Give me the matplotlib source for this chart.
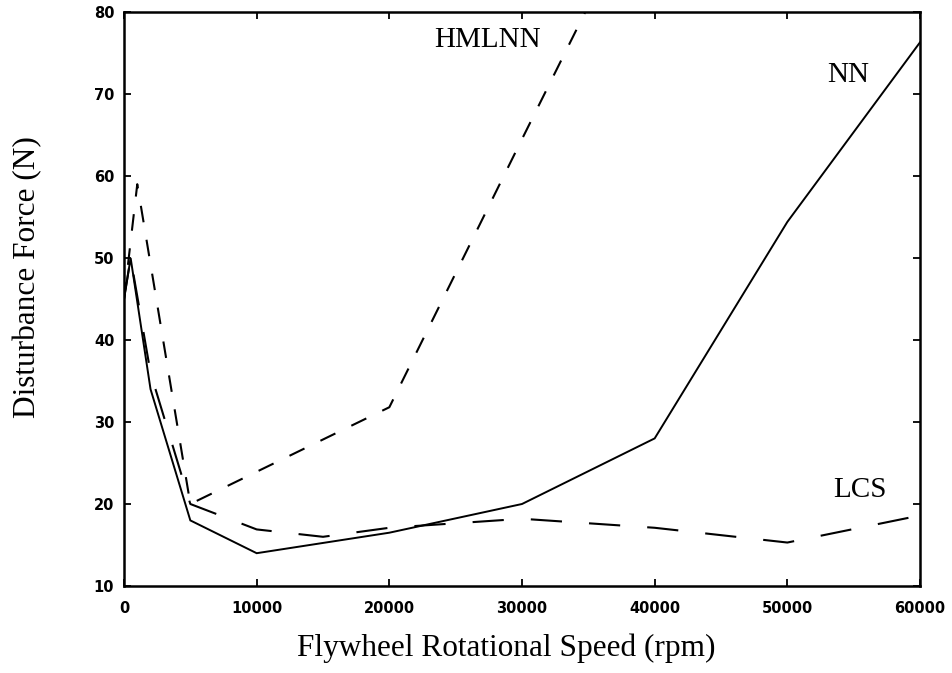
import matplotlib
matplotlib.use("Agg")
import matplotlib.pyplot as plt

# Data
speed_nn = [0, 500, 2000, 5000, 10000, 20000, 30000, 40000, 50000, 60000]
force_nn = [45, 50, 34, 18, 14, 16.5, 20, 28, 54.4, 76.3]

speed_hmlnn = [0, 1000, 5000, 20000, 30000, 40000]
force_hmlnn = [45, 59, 20, 31.8, 64.5, 97]

speed_lcs = [0, 500, 2000, 5000, 10000, 15000, 20000, 30000, 40000, 50000, 60000]
force_lcs = [45, 50, 36, 20, 16.9, 16.0, 17.1, 18.2, 17.1, 15.3, 18.6]

xticks = [0, 10000, 20000, 30000, 40000, 50000, 60000]
yticks = [10, 20, 30, 40, 50, 60, 70, 80]

labels = ["NN", "HMLNN", "LCS"]
label_pos = [(54600, 72.3), (27400, 76.6), (55500, 21.7)]

fig = plt.figure(figsize=(9.53, 6.73), dpi=100)
ax = fig.add_axes([124/953, 1-586/673, 796/953, 574/673])

ax.plot(speed_nn, force_nn, color="black", lw=1.4, solid_joinstyle="miter")
ax.plot(speed_hmlnn, force_hmlnn, color="black", lw=1.5, linestyle=(0, (8, 8.5)))
ax.plot(speed_lcs, force_lcs, color="black", lw=1.5, linestyle=(0, (15, 13)))

ax.set_xlim(0, 60000)
ax.set_ylim(10, 80)
ax.set_xticks(xticks)
ax.set_yticks(yticks)
ax.set_xticklabels([str(t) for t in xticks])
ax.set_yticklabels([str(t) for t in yticks])

for s in ax.spines.values():
    s.set_linewidth(1.8)

ax.tick_params(direction="in", length=5, width=1.3, top=True, right=True,
               labelsize=10.5)
ax.tick_params(axis="x", pad=11)
ax.tick_params(axis="y", pad=7)
for lab in ax.get_xticklabels() + ax.get_yticklabels():
    lab.set_fontfamily("DejaVu Sans")
    lab.set_fontweight("bold")

serif = "Liberation Serif"
ax.set_xlabel("Flywheel Rotational Speed (rpm)", fontsize=22.5, family=serif)
ax.set_ylabel("Disturbance Force (N)", fontsize=22.5, family=serif)
ax.xaxis.set_label_coords((506-124)/796, -0.082)
ax.yaxis.set_label_coords(-0.103, (586-277)/574)

for txt, (x, y) in zip(labels, label_pos):
    ax.text(x, y, txt, fontsize=21, family=serif, ha="center", va="center")

fig.savefig("out.png", dpi=100)
